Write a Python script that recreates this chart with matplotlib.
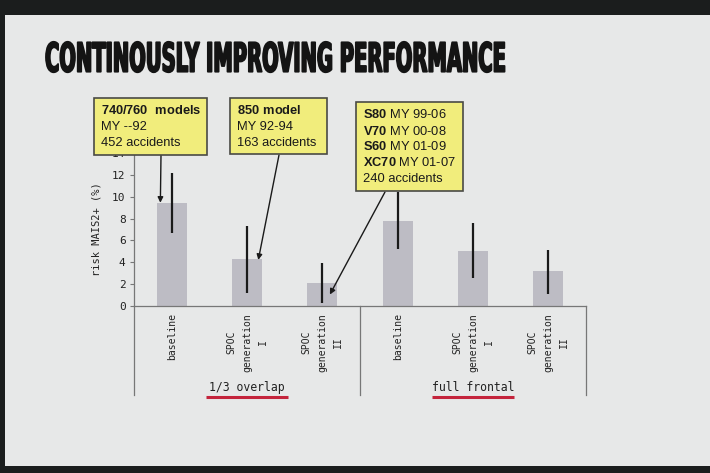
import matplotlib
matplotlib.use('Agg')
import matplotlib.pyplot as plt
from matplotlib.patches import Rectangle
from matplotlib.patheffects import AbstractPathEffect
from matplotlib.transforms import Affine2D

# values
categories = ['baseline', 'SPOC\ngeneration\nI', 'SPOC\ngeneration\nII',
              'baseline', 'SPOC\ngeneration\nI', 'SPOC\ngeneration\nII']
risk = [9.45, 4.3, 2.1, 7.8, 5.05, 3.2]
risk_low = [6.7, 1.2, 0.3, 5.2, 2.55, 1.1]
risk_high = [12.2, 7.3, 3.95, 10.4, 7.6, 5.1]
groups = ['1/3 overlap', 'full frontal']
yticks = [0, 2, 4, 6, 8, 10, 12, 14]

plt.rcParams['mathtext.fontset'] = 'custom'
plt.rcParams['mathtext.rm'] = 'Liberation Sans'
plt.rcParams['mathtext.bf'] = 'Liberation Sans:bold'


class Squeeze(AbstractPathEffect):
    # stretch the glyphs (condensed display font look), about point (x0, y0)
    def __init__(self, sx, sy, x0, y0, lw):
        super().__init__()
        self.sx, self.sy, self.x0, self.y0, self.lw = sx, sy, x0, y0, lw

    def draw_path(self, renderer, gc, tpath, affine, rgbFace=None):
        aff = affine + Affine2D().translate(-self.x0, -self.y0) \
            .scale(self.sx, self.sy).translate(self.x0, self.y0)
        gc0 = renderer.new_gc()
        gc0.copy_properties(gc)
        gc0.set_linewidth(self.lw)
        gc0.set_foreground(rgbFace)
        renderer.draw_path(gc0, tpath, aff, rgbFace)
        gc0.restore()


W, H = 710, 473
fig = plt.figure(figsize=(W / 100, H / 100), dpi=100, facecolor='#1b1d1d')

# projected slide area
fig.patches.append(Rectangle((5 / W, 7 / H), 1 - 5 / W, (H - 22) / H,
                             transform=fig.transFigure, facecolor='#e7e8e8',
                             edgecolor='none', zorder=-5))

fig.text(45 / W, 1 - 61 / H, 'CONTINOUSLY IMPROVING PERFORMANCE',
         family='DejaVu Sans', fontweight='bold', fontsize=19,
         color='#141414', va='center', ha='left',
         path_effects=[Squeeze(0.74, 1.526, 45, H - 61, 1.3)])

ax = fig.add_axes([134 / W, 1 - 306 / H, 452 / W, 153 / H])
ax.set_facecolor('none')

x = list(range(len(risk)))
err = [[r - lo for r, lo in zip(risk, risk_low)],
       [hi - r for r, hi in zip(risk, risk_high)]]
ax.bar(x, risk, width=0.4, color='#bdbcc4', zorder=1)
ax.errorbar(x, risk, yerr=err, fmt='none', ecolor='#1a1a1a', elinewidth=1.6,
            capsize=0, zorder=2)

ax.set_xlim(-0.5, 5.5)
ax.set_ylim(0, 14)
ax.set_yticks(yticks)
ax.set_yticklabels([str(t) for t in yticks], family='DejaVu Sans Mono',
                   fontsize=8, color='#222222')
ax.set_xticks(x)
ax.set_xticklabels(categories, rotation=90, va='top', ha='center',
                   multialignment='center', linespacing=1.75,
                   family='DejaVu Sans Mono', fontsize=7, color='#222222')
ax.tick_params(axis='x', length=0, pad=5)
ax.tick_params(axis='y', length=3, width=0.8, color='#777777', pad=3)
ax.set_ylabel('risk MAIS2+ (%)', family='DejaVu Sans Mono', fontsize=7.5,
              color='#222222', labelpad=8)
for s in ['top', 'right']:
    ax.spines[s].set_visible(False)
for s in ['left', 'bottom']:
    ax.spines[s].set_color('#777777')
    ax.spines[s].set_linewidth(0.9)

tr = ax.get_xaxis_transform()
for xd in [-0.5, 2.5, 5.5]:
    ax.plot([xd, xd], [0, -0.58], transform=tr, color='#777777', lw=0.9,
            clip_on=False)
for i, g in enumerate(groups):
    c = 1 + 3 * i
    ax.text(c, -0.535, g, transform=tr, ha='center', va='center',
            family='DejaVu Sans Mono', fontsize=8.3, color='#222222')
    ax.plot([c - 0.55, c + 0.55], [-0.592, -0.592], transform=tr,
            color='#c4243c', lw=2.2, clip_on=False, solid_capstyle='butt')

# yellow call-out boxes (image pixel coords: left, top, right, bottom)
boxes = [
    ((94, 98, 207, 155), [r'$\mathbf{740/760\ \ models}$', 'MY --92', '452 accidents']),
    ((230, 98, 327, 154), [r'$\mathbf{850\ model}$', 'MY 92-94', '163 accidents']),
    ((356, 102, 463, 191), [r'$\mathbf{S80}$ MY 99-06', r'$\mathbf{V70}$ MY 00-08',
                            r'$\mathbf{S60}$ MY 01-09', r'$\mathbf{XC70}$ MY 01-07',
                            '240 accidents']),
]
for (l, t, r, b), lines in boxes:
    fig.patches.append(Rectangle((l / W, 1 - b / H), (r - l) / W, (b - t) / H,
                                 transform=fig.transFigure, facecolor='#f1ed7c',
                                 edgecolor='#4a4a45', lw=1.2, zorder=5))
    for k, line in enumerate(lines):
        fig.text((l + 7) / W, 1 - (t + 13 + 16 * k) / H, line,
                 family='Liberation Sans', fontsize=9.3, color='#1a1a1a',
                 va='center', ha='left', zorder=6)

# arrows from boxes to bars
arrow_from = [(161, 155), (279, 155), (385, 192)]
arrow_dx = [-0.15, 0.15, 0.1]
arrow_fy = [1.0, 0.98, 0.5]
for i, (px, py) in enumerate(arrow_from):
    ax.annotate('', xy=(i + arrow_dx[i], risk[i] * arrow_fy[i]), xycoords='data',
                xytext=(px, H - py), textcoords='figure pixels',
                arrowprops=dict(arrowstyle='-|>', color='#1a1a1a', lw=1.0,
                                mutation_scale=8, shrinkA=0, shrinkB=0),
                zorder=4)

fig.savefig('out.png', dpi=100, facecolor=fig.get_facecolor())
